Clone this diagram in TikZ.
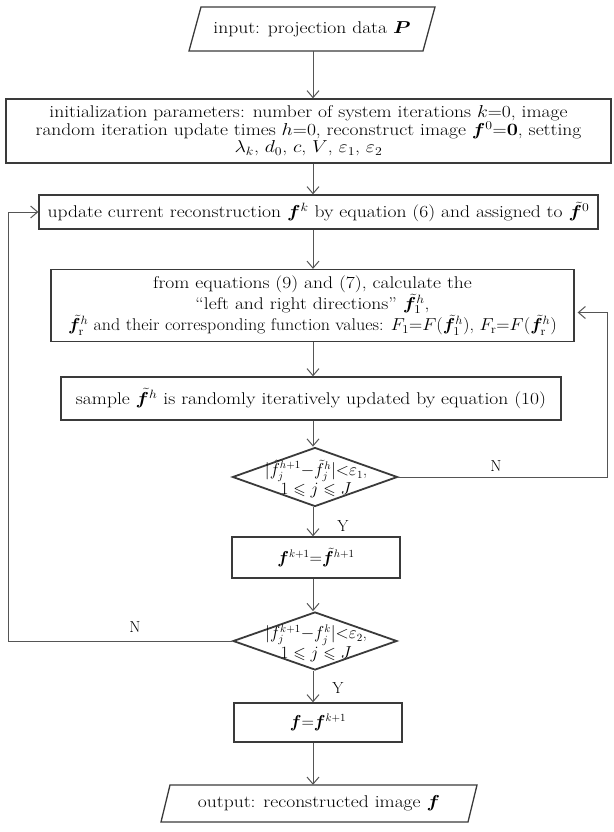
\documentclass[tikz,border=0pt]{standalone}
\usepackage{graphicx}
\usepackage{amsmath,amssymb,bm}
\usetikzlibrary{arrows.meta,shapes.geometric}
\definecolor{boxc}{HTML}{3A3A3A}
\definecolor{arrc}{HTML}{555555}
\newcommand{\sx}[2][1.15]{\scalebox{#1}[1]{#2}}
\begin{document}
\begin{tikzpicture}[x=1pt,y=-1pt,
  every node/.style={font=\fontsize{17}{17.5}\selectfont},
  box/.style={draw=boxc,line width=1.3pt,rectangle,inner sep=0pt,align=center},
  plain/.style={inner sep=0pt,align=center},
  dia/.style={draw=boxc,line width=1.8pt,diamond,inner sep=0pt,aspect=2.8},
  arr/.style={draw=arrc,line width=1pt,-{Straight Barb[length=7pt,width=12pt]}},
  lbl/.style={inner sep=0pt,font=\fontsize{16}{17}\selectfont}]
\useasboundingbox (0,0) rectangle (613,832);
\coordinate (ax) at (313,0);
\coordinate (rl) at (607,0);
\coordinate (ll) at (8,0);
% input
\node[plain,minimum width=220pt,minimum height=44pt] (in) at (312,29) {\sx{input: projection data $\bm P$}};
\draw[boxc,line width=1.3pt] (189,51) -- (201,7) -- (435,7) -- (423,51) -- cycle;
% init
\node[box,minimum width=605pt,minimum height=64pt] (init) at (308.5,131)
 {\sx{initialization parameters: number of system iterations $k$=0, image}\\
  \sx{random iteration update times $h$=0, reconstruct image $\bm f^0$=$\mathbf 0$, setting}\\
  \sx{$\lambda_k$, $d_0$, $c$, $V$, $\varepsilon_1$, $\varepsilon_2$}};
% update
\node[box,minimum width=559pt,minimum height=34pt] (upd) at (318.5,212)
 {\sx{update current reconstruction $\bm f^k$ by equation (6) and assigned to $\tilde{\bm f}^0$}};
% box3
\node[box,minimum width=523pt,minimum height=72pt] (calc) at (312.5,305.5)
 {\sx{from equations (9) and (7), calculate the}\\
  \sx{``left and right directions'' $\tilde{\bm f}^h_1$,}\\
  \sx[1.06]{$\tilde{\bm f}^h_{\mathrm r}$ and their corresponding function values: $F_1{=}F(\tilde{\bm f}^h_1)$, $F_{\mathrm r}{=}F(\tilde{\bm f}^h_{\mathrm r})$}};
% box4
\node[box,minimum width=500pt,minimum height=43pt] (samp) at (311,398.5)
 {\sx{sample $\tilde{\bm f}^h$ is randomly iteratively updated by equation (10)}};
% diamond 1
\node[dia,minimum width=165pt,minimum height=59pt] (d1) at (315,477) {};
\node[plain,font=\fontsize{16}{18}\selectfont] (d1t) at (316,479)
 {$|\tilde f_j^{h+1}{-}\tilde f_j^h|{<}\varepsilon_1$,\\ $1\leqslant j\leqslant J$};
% box5
\node[box,minimum width=168pt,minimum height=41pt,font=\fontsize{16}{17}\selectfont] (b5) at (316,557.5)
 {$\bm f^{k+1}{=}\tilde{\bm f}^{h+1}$};
% diamond 2
\node[dia,minimum width=164pt,minimum height=58pt] (d2) at (315,641) {};
\node[plain,font=\fontsize{16}{18}\selectfont] (d2t) at (316,643)
 {$|f_j^{k+1}{-}f_j^k|{<}\varepsilon_2$,\\ $1\leqslant j\leqslant J$};
% box6
\node[box,minimum width=168pt,minimum height=39pt,font=\fontsize{16}{17}\selectfont] (b6) at (318,722.5)
 {$\bm f{=}\bm f^{k+1}$};
% output
\node[plain,minimum width=290pt,minimum height=37pt] (out) at (319,803.5)
 {\sx{output: reconstructed image $\bm f$}};
\draw[boxc,line width=1.3pt] (161,822) -- (170,785) -- (477,785) -- (468,822) -- cycle;
% arrows
\draw[arr] (in.south -| ax) -- (init.north -| ax);
\draw[arr] (init.south -| ax) -- (upd.north -| ax);
\draw[arr] (upd.south -| ax) -- (calc.north -| ax);
\draw[arr] (calc.south -| ax) -- (samp.north -| ax);
\draw[arr] (samp.south -| ax) -- (d1.north -| ax);
\draw[arr] (d1.south -| ax) -- (b5.north -| ax);
\draw[arr] (b5.south -| ax) -- (d2.north -| ax);
\draw[arr] (d2.south -| ax) -- (b6.north -| ax);
\draw[arr] (b6.south -| ax) -- (out.north -| ax);
% loops
\coordinate (c3e) at ([yshift=-7pt]calc.east);
\draw[arr,shorten >=3pt] (d1.east) -- (d1.east -| rl) -- (rl |- c3e) -- (c3e);
\draw[arr] (d2.west) -- (d2.west -| ll) -- (ll |- upd.west) -- (upd.west);
% labels
\node[lbl] (n1) at (496,466) {N};
\node[lbl] (n2) at (135,627) {N};
\node[lbl] (y1) at (343,526) {Y};
\node[lbl] (y2) at (338,688) {Y};
\end{tikzpicture}
\end{document}
